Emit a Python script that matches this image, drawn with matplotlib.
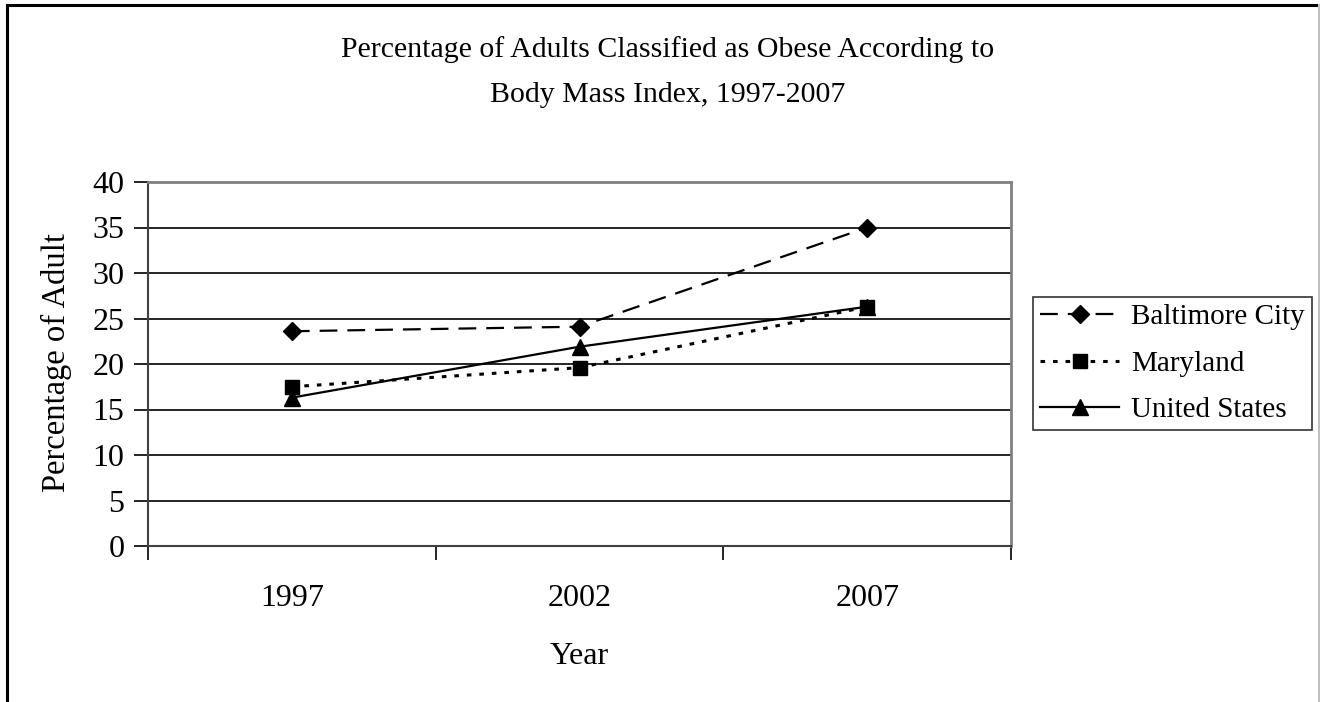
import matplotlib
matplotlib.use("Agg")
import matplotlib.pyplot as plt
from matplotlib.lines import Line2D
from matplotlib.patches import Rectangle

years = ["1997", "2002", "2007"]
baltimore = [23.6, 24.1, 35.0]
maryland = [17.5, 19.6, 26.3]
united_states = [16.3, 21.9, 26.3]
y_ticks = [0, 5, 10, 15, 20, 25, 30, 35, 40]

plt.rcParams["font.family"] = ["Liberation Serif", "DejaVu Serif"]

W, H = 1320, 702
fig = plt.figure(figsize=(W / 100, H / 100), dpi=100)
fig.patch.set_facecolor("white")

# outer chart border (left/top black, right grey)
fig.add_artist(Line2D([7 / W, 7 / W], [0, 1 - 5 / H], color="black", lw=2.2))
fig.add_artist(Line2D([7 / W, 1319 / W], [1 - 5 / H, 1 - 5 / H], color="black", lw=2.2))
fig.add_artist(Line2D([1318.5 / W, 1318.5 / W], [0, 1 - 5 / H], color="#c0c0c0", lw=1.5))

ax = fig.add_axes([148 / W, 1 - 546 / H, (1011 - 148) / W, (546 - 182) / H])
x = list(range(len(years)))

ax.plot(x, baltimore, color="black", lw=1.6, ls=(0, (8, 4.5)), marker="D",
        ms=9, label="Baltimore City", zorder=4)
ax.plot(x, maryland, color="black", lw=2.2, ls=(0, (1.5, 2.6)), marker="s",
        ms=10, label="Maryland", zorder=4)
ax.plot(x, united_states, color="black", lw=1.6, ls="-", marker="^",
        ms=11, label="United States", zorder=4)

ax.set_xlim(-0.5, len(years) - 0.5)
ax.set_ylim(0, 40)
ax.set_yticks(y_ticks)
ax.set_yticklabels([str(v) for v in y_ticks], fontsize=23)
for v in y_ticks[1:]:
    ax.axhline(v, color="black", lw=1.2, zorder=1)

ax.set_xticks([i - 0.5 for i in range(len(years) + 1)])
ax.set_xticklabels([])
ax.set_xticks(x, minor=True)
ax.set_xticklabels(years, minor=True, fontsize=23)
ax.tick_params(axis="x", which="minor", length=0, pad=27)
ax.tick_params(axis="x", which="major", direction="out", length=10, width=1.2)
ax.tick_params(axis="y", direction="out", length=10, width=1.2, pad=7)

for side in ["top", "right"]:
    ax.spines[side].set_color("#808080")
    ax.spines[side].set_linewidth(2)
ax.spines["left"].set_color("#404040")
ax.spines["left"].set_linewidth(1.5)
ax.spines["bottom"].set_color("#404040")
ax.spines["bottom"].set_linewidth(1.5)

ax.set_xlabel("Year", fontsize=23, labelpad=21)
lab = ax.set_ylabel("Percentage of Adults", fontsize=23.5)
ax.yaxis.set_label_coords((72 - 148) / 863, (546 - 356) / 364)
# the reference cuts the label off at its top end
clip = Rectangle((0, 0), 1, 1 - 233 / H, transform=fig.transFigure)
lab.set_clip_path(clip)

fig.text(668 / W, 1 - 50 / H, "Percentage of Adults Classified as Obese According to",
         ha="center", va="center", fontsize=21.5)
fig.text(668 / W, 1 - 95 / H, "Body Mass Index, 1997-2007",
         ha="center", va="center", fontsize=21.5)

leg = fig.legend(loc="center left", bbox_to_anchor=(1033 / W, 1 - 363.5 / H),
                 fontsize=21, frameon=True, fancybox=False, handlelength=2.7,
                 handletextpad=0.4, borderpad=0.25, labelspacing=0.68,
                 borderaxespad=0)
leg.get_frame().set_edgecolor("black")
leg.get_frame().set_linewidth(1.2)

fig.savefig("out.png", dpi=100, facecolor="white")
